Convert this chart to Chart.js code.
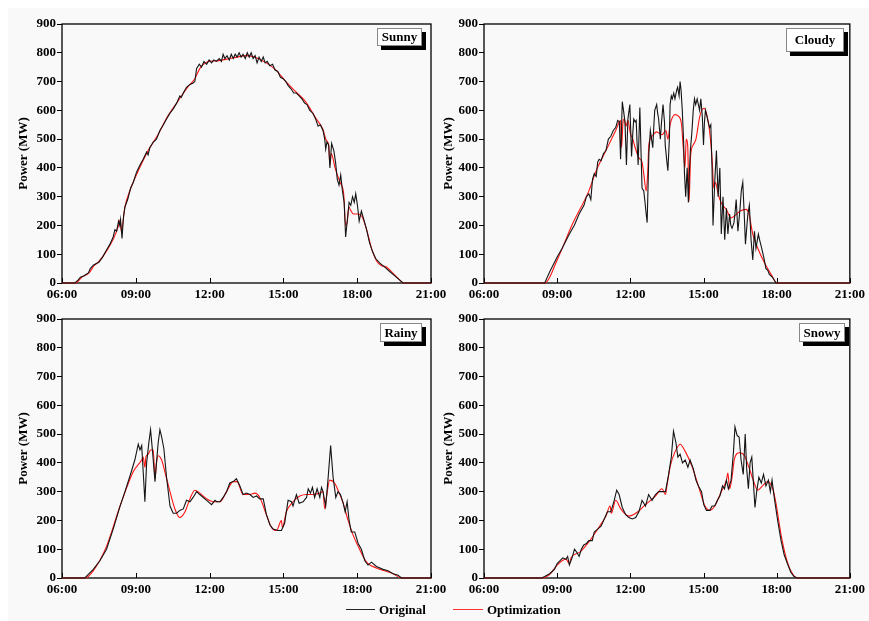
<!DOCTYPE html>
<html>
<head>
<meta charset="utf-8">
<script src="https://cdn.jsdelivr.net/npm/chart.js@4.4.1/dist/chart.umd.min.js"></script>
<style>
  body { margin: 0; width: 869px; height: 621px; position: relative; background: #fff; overflow: hidden; }
  #bg { position: absolute; left: 8px; top: 8px; right: 0; bottom: 0; background: #f9f9f9; }
  canvas { position: absolute; }
  .tag { position: absolute; box-sizing: border-box; background: #fff; border: 1px solid #888;
         box-shadow: 4px 4px 0 #000; font: bold 13px 'Liberation Serif', 'Times New Roman', serif;
         text-align: center; color: #000; }
  .leg { position: absolute; font: bold 13px 'Liberation Serif', 'Times New Roman', serif; color: #000; }
  .legline { position: absolute; height: 0; }
</style>
</head>
<body>
<div id="bg"></div>
<canvas id="c1" width="460" height="305" style="left:0;top:0"></canvas>
<canvas id="c2" width="439" height="305" style="left:430px;top:0"></canvas>
<canvas id="c3" width="460" height="305" style="left:0;top:300px"></canvas>
<canvas id="c4" width="439" height="305" style="left:430px;top:300px"></canvas>

<div class="tag" style="left:377px;top:28px;width:45px;height:18px;line-height:16px">Sunny</div>
<div class="tag" style="left:786px;top:28px;width:58px;height:24px;line-height:22px">Cloudy</div>
<div class="tag" style="left:380px;top:323px;width:42px;height:19px;line-height:17px">Rainy</div>
<div class="tag" style="left:799px;top:323px;width:46px;height:19px;line-height:17px">Snowy</div>

<div class="legline" style="left:346px;top:609px;width:29px;border-top:1px solid #222"></div>
<div class="leg" style="left:379px;top:602px">Original</div>
<div class="legline" style="left:453px;top:609px;width:30px;border-top:1px solid #ff3030"></div>
<div class="leg" style="left:487px;top:602px">Optimization</div>

<script>
// time in hours, power in MW
const xTicks = [6, 9, 12, 15, 18, 21];

const sunnyOriginal = [
  [6,0],[6.53,0],[6.65,10],[6.75,20],[6.9,25],[7.07,35],[7.15,50],[7.27,62],[7.4,68],[7.5,72],
  [7.65,90],[7.81,115],[7.95,135],[8.08,160],[8.15,185],[8.22,180],[8.3,215],[8.35,200],[8.38,220],
  [8.44,155],[8.5,230],[8.56,265],[8.67,290],[8.79,330],[8.9,350],[9.03,385],[9.17,410],[9.3,430],
  [9.44,455],[9.5,445],[9.57,470],[9.71,490],[9.84,500],[9.98,530],[10.12,550],[10.25,570],[10.39,590],
  [10.52,605],[10.66,625],[10.79,650],[10.85,645],[10.93,660],[11.06,680],[11.2,690],[11.33,695],
  [11.4,700],[11.47,745],[11.58,760],[11.67,750],[11.77,770],[11.88,760],[11.98,775],[12.08,765],
  [12.17,775],[12.28,770],[12.39,780],[12.48,770],[12.55,795],[12.62,780],[12.71,790],[12.8,775],
  [12.88,795],[12.96,780],[13.04,795],[13.12,785],[13.2,800],[13.28,785],[13.36,795],[13.45,780],
  [13.53,800],[13.61,785],[13.69,800],[13.77,780],[13.85,790],[13.93,765],[14.01,785],[14.1,770],
  [14.18,785],[14.26,765],[14.34,770],[14.45,755],[14.56,760],[14.66,740],[14.77,735],[14.88,715],
  [14.99,710],[15.1,700],[15.2,685],[15.31,675],[15.42,660],[15.53,660],[15.64,650],[15.75,640],
  [15.86,625],[15.96,620],[16.07,600],[16.2,590],[16.31,570],[16.41,545],[16.5,550],[16.61,530],
  [16.68,500],[16.72,465],[16.77,490],[16.84,480],[16.89,400],[16.96,485],[17.05,460],[17.12,420],
  [17.19,360],[17.26,340],[17.33,375],[17.4,320],[17.47,280],[17.53,160],[17.6,220],[17.67,280],
  [17.74,270],[17.81,300],[17.88,280],[17.94,310],[18.01,270],[18.08,215],[18.17,250],[18.27,220],
  [18.37,190],[18.5,140],[18.62,110],[18.75,85],[18.91,70],[19.12,55],[19.32,40],[19.53,25],
  [19.73,10],[19.86,0],[21,0]
];
const sunnyOptimization = [
  [6,0],[6.55,0],[6.8,20],[7.1,35],[7.3,60],[7.5,75],[7.8,110],[8.1,155],[8.3,200],[8.36,220],
  [8.41,180],[8.46,200],[8.55,260],[8.8,330],[9.1,390],[9.5,460],[9.9,515],[10.3,580],[10.7,630],
  [11.1,680],[11.4,710],[11.6,745],[11.9,768],[12.3,772],[12.7,778],[13.1,785],[13.5,790],[13.9,783],
  [14.3,765],[14.7,740],[15.1,700],[15.5,665],[15.9,630],[16.3,575],[16.6,535],[16.75,495],[16.84,480],
  [16.89,410],[16.95,450],[17.1,400],[17.3,350],[17.45,310],[17.53,200],[17.6,215],[17.66,265],
  [17.72,255],[17.85,240],[18.05,240],[18.2,230],[18.4,180],[18.6,115],[18.8,75],[19.0,60],[19.2,55],
  [19.5,30],[19.8,5],[19.88,0],[21,0]
];

const cloudyOriginal = [
  [6,0],[8.49,0],[8.7,40],[9.0,90],[9.2,120],[9.5,170],[9.7,200],[9.9,240],[10.1,270],[10.2,300],
  [10.3,310],[10.38,290],[10.45,360],[10.52,380],[10.6,370],[10.66,420],[10.72,430],[10.8,425],
  [10.9,450],[11.0,460],[11.1,500],[11.2,510],[11.3,530],[11.4,540],[11.48,565],[11.55,560],[11.6,430],
  [11.67,630],[11.72,600],[11.78,560],[11.84,410],[11.9,570],[11.98,620],[12.05,440],[12.1,520],
  [12.14,570],[12.2,560],[12.24,565],[12.28,480],[12.32,410],[12.39,610],[12.44,450],[12.48,330],
  [12.55,320],[12.59,290],[12.65,240],[12.69,210],[12.76,450],[12.82,530],[12.87,500],[12.92,470],
  [12.96,540],[13.0,600],[13.08,620],[13.12,590],[13.16,570],[13.23,500],[13.28,560],[13.34,620],
  [13.4,560],[13.43,480],[13.5,420],[13.54,390],[13.6,500],[13.63,620],[13.68,650],[13.72,640],
  [13.78,660],[13.83,640],[13.9,670],[13.94,680],[14.0,650],[14.04,700],[14.08,670],[14.13,600],
  [14.18,500],[14.22,380],[14.27,300],[14.33,400],[14.38,280],[14.42,380],[14.46,460],[14.52,520],
  [14.58,600],[14.63,640],[14.68,620],[14.74,640],[14.79,620],[14.84,600],[14.89,640],[14.95,580],
  [15.0,480],[15.04,560],[15.08,600],[15.14,580],[15.19,560],[15.25,540],[15.3,550],[15.35,400],
  [15.39,200],[15.46,350],[15.53,460],[15.6,300],[15.67,400],[15.73,170],[15.8,300],[15.87,150],
  [15.94,260],[16.0,170],[16.07,240],[16.12,200],[16.17,190],[16.25,210],[16.3,250],[16.34,290],
  [16.41,180],[16.49,250],[16.55,320],[16.61,350],[16.68,220],[16.72,135],[16.78,200],[16.82,240],
  [16.88,270],[16.95,150],[17.02,80],[17.09,180],[17.15,120],[17.25,170],[17.3,150],[17.36,130],
  [17.47,90],[17.56,50],[17.63,45],[17.7,30],[17.83,20],[17.97,0],[21,0]
];
const cloudyOptimization = [
  [6,0],[8.5,0],[9.0,80],[9.6,200],[10.3,320],[10.6,390],[11.0,460],[11.4,530],[11.6,565],[11.64,470],
  [11.7,560],[11.75,570],[11.82,545],[11.9,565],[12.0,520],[12.1,500],[12.2,470],[12.32,440],[12.4,430],
  [12.48,420],[12.55,380],[12.65,320],[12.71,380],[12.76,480],[12.89,510],[13.07,525],[13.3,515],
  [13.46,530],[13.54,500],[13.63,550],[13.83,585],[13.97,580],[14.1,550],[14.17,470],[14.24,400],
  [14.29,500],[14.35,480],[14.41,285],[14.47,440],[14.58,480],[14.69,500],[14.85,580],[15.02,607],
  [15.12,590],[15.26,520],[15.36,420],[15.42,330],[15.49,350],[15.6,310],[15.73,278],[15.94,255],
  [16.13,226],[16.3,235],[16.5,250],[16.74,256],[16.85,245],[17.02,170],[17.23,120],[17.5,70],
  [17.77,30],[18.02,0],[21,0]
];

const rainyOriginal = [
  [6,0],[6.93,0],[7.1,15],[7.27,30],[7.54,60],[7.81,100],[8.08,170],[8.36,250],[8.56,300],[8.82,370],
  [8.96,410],[9.1,465],[9.17,445],[9.24,460],[9.3,370],[9.37,265],[9.44,400],[9.53,470],[9.6,515],
  [9.68,440],[9.78,335],[9.84,400],[9.91,470],[9.98,515],[10.05,490],[10.14,450],[10.25,350],
  [10.39,250],[10.52,225],[10.66,225],[10.79,235],[10.93,240],[11.06,270],[11.2,265],[11.33,280],
  [11.47,300],[11.6,290],[11.88,270],[12.08,255],[12.22,270],[12.29,265],[12.42,265],[12.55,280],
  [12.69,300],[12.82,330],[12.96,335],[13.09,345],[13.23,320],[13.36,290],[13.5,295],[13.64,290],
  [13.77,280],[13.91,285],[14.04,275],[14.18,275],[14.31,220],[14.45,185],[14.58,170],[14.78,165],
  [14.92,165],[15.05,190],[15.19,270],[15.33,265],[15.39,250],[15.53,290],[15.64,260],[15.8,265],
  [15.94,280],[16.01,310],[16.1,295],[16.18,315],[16.27,280],[16.37,310],[16.48,280],[16.55,315],
  [16.61,300],[16.72,250],[16.82,350],[16.92,460],[17.02,350],[17.13,280],[17.22,300],[17.32,290],
  [17.43,260],[17.51,230],[17.59,265],[17.67,200],[17.76,160],[17.9,160],[18.04,120],[18.17,100],
  [18.31,60],[18.44,45],[18.58,55],[18.78,40],[19.05,30],[19.25,25],[19.46,15],[19.66,10],[19.8,0],[21,0]
];
const rainyOptimization = [
  [6,0],[6.93,0],[7.27,25],[7.81,110],[8.36,250],[8.9,370],[9.24,410],[9.3,420],[9.37,385],[9.41,420],
  [9.5,430],[9.6,445],[9.71,445],[9.78,345],[9.84,400],[9.91,425],[10.05,410],[10.18,370],[10.39,300],
  [10.59,240],[10.79,210],[11.0,230],[11.2,275],[11.4,305],[11.6,295],[11.88,275],[12.15,265],[12.42,265],
  [12.69,300],[12.96,335],[13.12,335],[13.36,290],[13.64,290],[13.84,295],[14.04,280],[14.31,220],
  [14.52,175],[14.72,165],[14.92,200],[14.96,175],[15.12,230],[15.39,265],[15.67,285],[15.94,290],
  [16.2,290],[16.48,295],[16.61,300],[16.68,240],[16.75,280],[16.88,340],[17.08,330],[17.22,305],
  [17.43,260],[17.63,200],[17.83,150],[18.04,110],[18.24,75],[18.44,50],[18.78,35],[19.12,25],
  [19.46,15],[19.8,0],[21,0]
];

const snowyOriginal = [
  [6,0],[8.36,0],[8.49,5],[8.69,15],[8.89,30],[9.0,50],[9.12,60],[9.23,70],[9.36,65],[9.43,75],
  [9.5,45],[9.61,70],[9.71,100],[9.8,90],[9.9,75],[9.99,100],[10.09,115],[10.2,120],[10.3,130],
  [10.44,130],[10.52,160],[10.66,170],[10.8,180],[10.93,205],[11.06,230],[11.2,230],[11.34,270],
  [11.44,305],[11.54,290],[11.67,245],[11.81,220],[11.94,210],[12.08,205],[12.22,210],[12.35,230],
  [12.48,270],[12.62,250],[12.75,290],[12.89,270],[13.03,290],[13.16,300],[13.3,300],[13.44,300],
  [13.57,360],[13.68,420],[13.77,510],[13.87,470],[13.95,420],[14.04,430],[14.14,400],[14.25,410],
  [14.36,385],[14.45,410],[14.58,380],[14.69,340],[14.79,320],[14.92,300],[15.01,255],[15.12,235],
  [15.26,235],[15.35,250],[15.46,250],[15.57,270],[15.67,285],[15.78,320],[15.86,310],[15.94,340],
  [16.02,310],[16.13,340],[16.23,440],[16.29,525],[16.38,495],[16.46,490],[16.54,410],[16.63,360],
  [16.71,500],[16.77,380],[16.84,310],[16.91,400],[16.98,420],[17.04,340],[17.11,245],[17.18,300],
  [17.27,350],[17.37,330],[17.46,360],[17.56,320],[17.66,340],[17.74,300],[17.81,340],[17.9,280],
  [18.04,200],[18.18,130],[18.31,80],[18.44,50],[18.58,20],[18.71,5],[18.85,0],[21,0]
];
const snowyOptimization = [
  [6,0],[8.36,0],[8.69,12],[9.0,45],[9.36,65],[9.5,50],[9.57,70],[9.93,90],[10.34,130],[10.74,180],
  [11.0,215],[11.17,250],[11.22,225],[11.4,270],[11.61,240],[11.94,215],[12.22,225],[12.62,255],
  [13.03,285],[13.3,310],[13.44,290],[13.5,320],[13.64,390],[13.84,440],[14.04,465],[14.25,440],
  [14.52,390],[14.79,320],[15.06,250],[15.26,235],[15.46,250],[15.73,300],[15.94,340],[16.0,365],
  [16.07,310],[16.17,350],[16.27,415],[16.48,435],[16.68,425],[16.88,380],[17.08,330],[17.22,305],
  [17.42,320],[17.63,335],[17.84,310],[17.97,260],[18.18,150],[18.39,70],[18.58,25],[18.85,0],[21,0]
];

const fontFamily = "'Liberation Serif', 'Times New Roman', serif";

// frame round the plot area and the small inward ticks on the time axis
const framePlugin = {
  id: 'frame',
  beforeDatasetsDraw(chart) {
    const { ctx, chartArea: a, scales: { x } } = chart;
    ctx.save();
    ctx.strokeStyle = '#000';
    ctx.lineWidth = 1.3;
    ctx.strokeRect(a.left, a.top, a.right - a.left, a.bottom - a.top);
    ctx.lineWidth = 1;
    for (const t of x.ticks) {
      const px = Math.round(x.getPixelForValue(t.value)) + 0.5;
      ctx.beginPath();
      ctx.moveTo(px, a.bottom);
      ctx.lineTo(px, a.bottom - 5);
      ctx.stroke();
    }
    ctx.restore();
  }
};

function toPoints(pairs) {
  return pairs.map(p => ({ x: p[0], y: p[1] }));
}

function makePanel(id, original, optimization, axisWidth, axisHeight, padTop, padRight, titlePad) {
  new Chart(document.getElementById(id), {
    type: 'line',
    data: {
      datasets: [
        { label: 'Original', data: toPoints(original), borderColor: '#151515', borderWidth: 1.1,
          pointRadius: 0, tension: 0, clip: false },
        { label: 'Optimization', data: toPoints(optimization), borderColor: '#ff1414', borderWidth: 1.1,
          pointRadius: 0, cubicInterpolationMode: 'monotone', clip: false }
      ]
    },
    plugins: [framePlugin],
    options: {
      responsive: false,
      animation: false,
      layout: { padding: { top: padTop, right: padRight, left: 0, bottom: 0 } },
      scales: {
        x: {
          type: 'linear',
          min: 6, max: 21,
          afterBuildTicks: s => { s.ticks = xTicks.map(v => ({ value: v })); },
          afterFit: s => { s.height = axisHeight; },
          grid: { display: false, drawTicks: false },
          border: { display: false },
          ticks: {
            padding: 4,
            color: '#000',
            maxRotation: 0,
            font: { family: fontFamily, size: 13, weight: 'bold' },
            callback: v => String(v).padStart(2, '0') + ':00'
          }
        },
        y: {
          min: 0, max: 900,
          afterFit: s => { s.width = axisWidth; },
          grid: { drawOnChartArea: false, drawTicks: true, tickLength: 5, color: '#000' },
          border: { display: false },
          ticks: {
            stepSize: 100,
            padding: 1,
            color: '#000',
            font: { family: fontFamily, size: 13, weight: 'bold' }
          },
          title: {
            display: true,
            text: 'Power (MW)',
            color: '#000',
            padding: { top: titlePad, bottom: 0 },
            font: { family: fontFamily, size: 13, weight: 'bold' }
          }
        }
      },
      plugins: {
        legend: { display: false },
        tooltip: { enabled: false }
      }
    }
  });
}

makePanel('c1', sunnyOriginal, sunnyOptimization, 62, 22, 24, 29, 16);
makePanel('c2', cloudyOriginal, cloudyOptimization, 54, 22, 24, 16, 11);
makePanel('c3', rainyOriginal, rainyOptimization, 62, 27, 19, 29, 16);
makePanel('c4', snowyOriginal, snowyOptimization, 54, 27, 19, 16, 11);
</script>
</body>
</html>
